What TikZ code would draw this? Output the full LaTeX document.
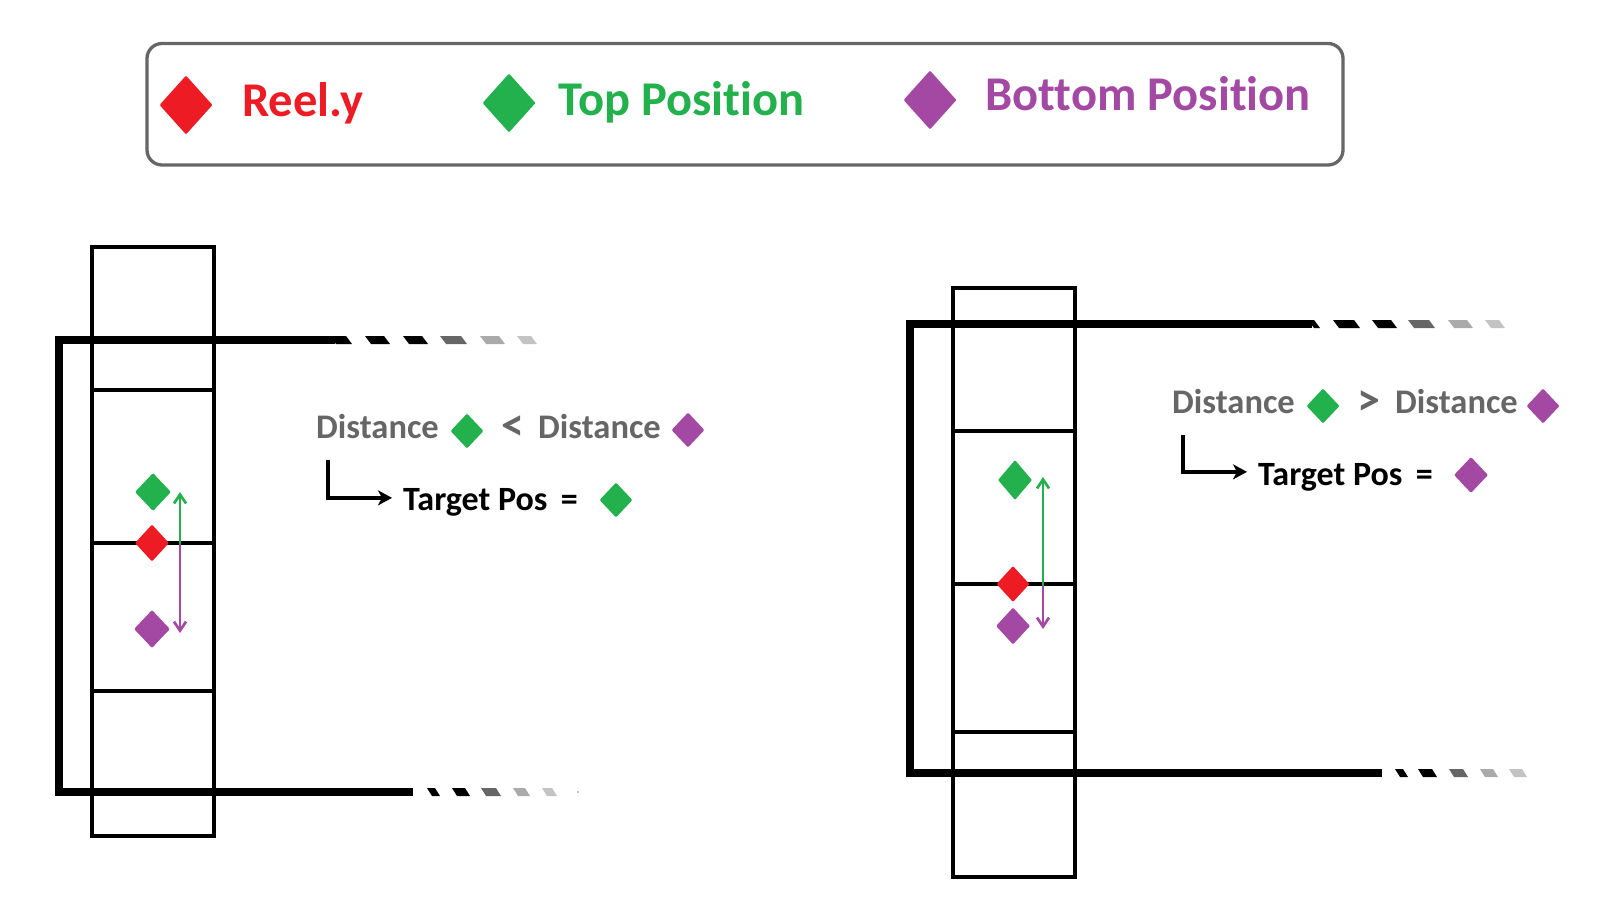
\documentclass[tikz,border=0pt]{standalone}
\usepackage{fontspec}
\setmainfont[Ligatures=NoCommon]{Carlito}
\usepackage{tkz-euclide}
\usetikzlibrary{arrows.meta,shapes.geometric}

\definecolor{reelred}{HTML}{ED1C24}
\definecolor{toppos}{HTML}{22B14C}
\definecolor{botpos}{HTML}{A349A4}
\definecolor{txtgray}{HTML}{666666}
\definecolor{fadeA}{HTML}{666666}
\definecolor{fadeB}{HTML}{AAAAAA}
\definecolor{fadeC}{HTML}{C3C3C3}

\begin{document}
\begin{tikzpicture}[x=1pt,y=-1pt,
  gem/.style={diamond,fill=#1,inner sep=0pt,rounded corners=1pt,
    minimum width=33pt,minimum height=35pt},
  biggem/.style={gem=#1,minimum width=53pt,minimum height=59pt},
  legend/.style={font=\fontsize{48.5}{48.5}\selectfont\bfseries,anchor=base west,inner sep=0pt},
  dist/.style={font=\fontsize{34.5}{34.5}\selectfont\bfseries,text=txtgray,anchor=base west,inner sep=0pt},
  cmp/.style={dist,font=\fontsize{46}{46}\selectfont\bfseries},
  target/.style={font=\fontsize{34}{34}\selectfont\bfseries,anchor=base west,inner sep=0pt},
  reel/.style={line width=4.5pt},
  frame/.style={line width=8pt,line join=miter},
  travel/.style={line width=2.7pt,-{Straight Barb[length=9pt,width=12pt]}},
  elbow/.style={line width=3.3pt,-{Stealth[length=14pt,width=15pt,inset=4pt]},shorten >=11pt}]
\useasboundingbox (0,0) rectangle (1605,899);
\tkzDefPoints{180/492/T1, 180/544/M1, 180/633/B1, 1043/477/T2, 1043/586/M2, 1043/629/B2,
  328/460/E1, 1183/435/E2}

% legend
\draw[line width=3.3pt,txtgray,rounded corners=15pt] (147,43.5) rectangle (1343,165);
\node[biggem=reelred] (ryG) at (186,105) {};
\node[legend,text=reelred] (ry) at (242,116) {Reel.y};
\node[biggem=toppos] (tpG) at (509,103) {};
\node[legend,text=toppos] (tp) at (558,115) {Top Position};
\node[biggem=botpos] (bpG) at (930,100) {};
\node[legend,text=botpos] (bp) at (985,110) {Bottom Position};

% left reel
\draw[reel] (92,247) rectangle (214,836);
\draw[reel] (92,390) -- (214,390) (92,543) -- (214,543) (92,691) -- (214,691);
\draw[frame] (335,340) -- (59,340) -- (59,792) -- (413,792);
\foreach \a/\b/\c in {330/352/black,365/390/black,403/428/black,440/467/fadeA,480/505/fadeB,517/537/fadeC}
  \fill[\c] (\a,336) -- (\b-6,336) -- (\b,344) -- (\a+6,344) -- cycle;
\foreach \a/\b/\c in {427/440/black,452/470/black,481/501/fadeA,513/530/fadeB,542/557/fadeC}
  \fill[\c] (\a,788) -- (\b-5,788) -- (\b,796) -- (\a+5,796) -- cycle;
\fill[fadeC] (577,791) rectangle (579,793);

\node[gem=toppos,minimum width=36pt,minimum height=38pt] (G1) at (153,492) {};
\node[gem=reelred,minimum width=34pt,minimum height=37pt] (R1) at (152,543) {};
\node[gem=botpos,minimum width=36pt,minimum height=38pt] (P1) at (152,629) {};
\draw[travel,toppos] (M1) -- (T1);
\draw[travel,botpos] (M1) -- (B1);

\node[dist] (d1) at (316,438) {Distance};
\node[gem=toppos] (dG1) at (467,431) {};
\node[cmp] (lt) at (501,440) {<};
\node[dist] (d2) at (538,438) {Distance};
\node[gem=botpos] (dP1) at (688,430) {};
\node[target] (tg1) at (403,510) {Target Pos \,=};
\node[gem=toppos] (tG1) at (616,500) {};
\draw[elbow] (E1) |- ([yshift=4pt]tg1.west);

% right reel
\draw[reel] (953,288) rectangle (1075,877);
\draw[reel] (953,431) -- (1075,431) (953,584) -- (1075,584) (953,732) -- (1075,732);
\draw[frame] (1312,324) -- (910,324) -- (910,773) -- (1382,773);
\foreach \a/\b/\c in {1308/1320/black,1333/1360/black,1372/1397/black,1408/1435/fadeA,1448/1473/fadeB,1485/1505/fadeC}
  \fill[\c] (\a,320) -- (\b-6,320) -- (\b,328) -- (\a+6,328) -- cycle;
\foreach \a/\b/\c in {1395/1408/black,1418/1437/black,1449/1468/fadeA,1480/1498/fadeB,1509/1527/fadeC}
  \fill[\c] (\a,769) -- (\b-5,769) -- (\b,777) -- (\a+5,777) -- cycle;

\node[gem=toppos,minimum width=34pt,minimum height=40pt] (G2) at (1015,480) {};
\node[gem=reelred,minimum width=33pt,minimum height=36pt] (R2) at (1013,584) {};
\node[gem=botpos,minimum width=34pt,minimum height=37pt] (P2) at (1013,626) {};
\draw[travel,toppos] (M2) -- (T2);
\draw[travel,botpos] (M2) -- (B2);

\node[dist] (d3) at (1172,413) {Distance};
\node[gem=toppos] (dG2) at (1323,406) {};
\node[cmp] (gt) at (1357,415) {>};
\node[dist] (d4) at (1395,413) {Distance};
\node[gem=botpos] (dP2) at (1543,406) {};
\node[target] (tg2) at (1258,485) {Target Pos \,=};
\node[gem=botpos,minimum width=34pt,minimum height=36pt] (tP2) at (1471,475) {};
\draw[elbow] (E2) |- ([yshift=5pt]tg2.west);
\end{tikzpicture}
\end{document}
